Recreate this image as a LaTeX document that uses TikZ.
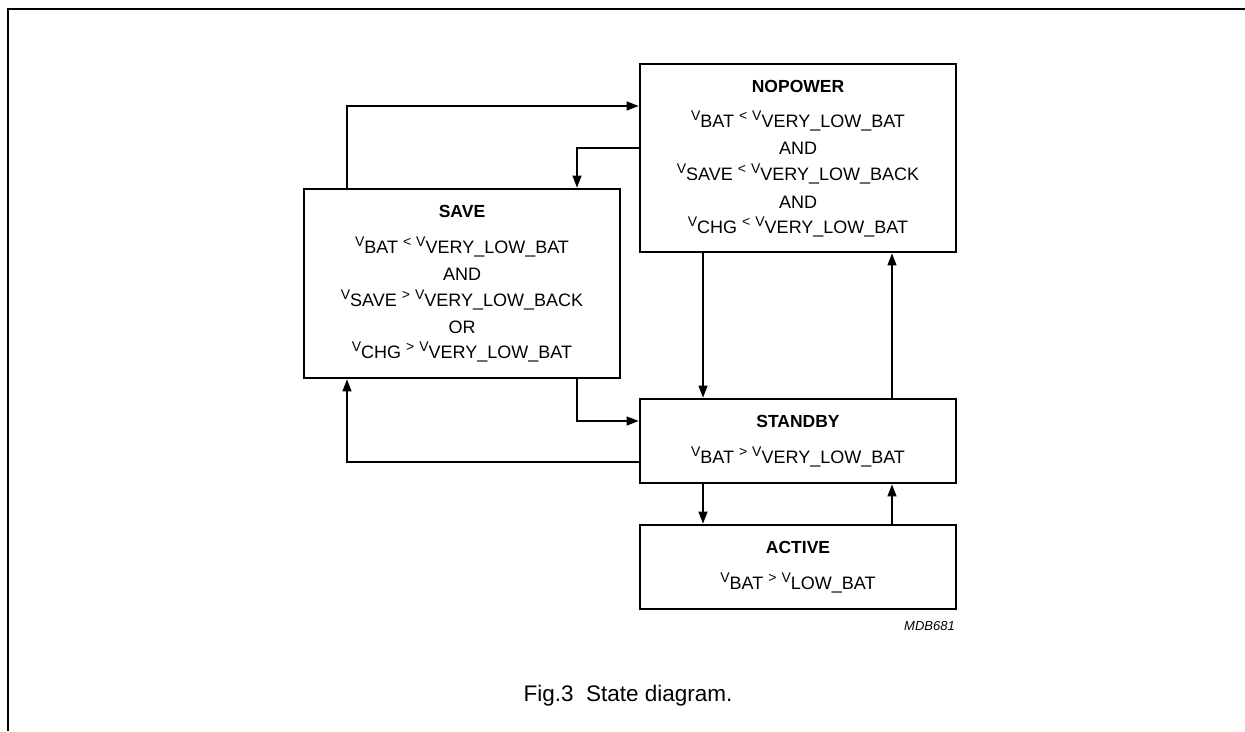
\documentclass[tikz,border=0pt]{standalone}
\usepackage{fontspec}
\setmainfont{Liberation Sans}
\usetikzlibrary{arrows.meta}
\newcommand\rsm[1]{\raisebox{6.5pt}{\fontsize{14}{14}\selectfont #1}}
\tikzset{
  statebox/.style={draw, line width=2.8pt, rectangle, inner sep=0pt, minimum width=316pt},
  ttl/.style={anchor=base, inner sep=0pt, font=\fontsize{17.5}{20}\selectfont\bfseries},
  cond/.style={anchor=base, inner sep=0pt, font=\fontsize{18}{20}\selectfont},
  conn/.style={line width=1.3pt, -{Triangle[length=12pt,width=9pt]}},
  frameline/.style={line width=2pt}
}
\begin{document}
\begin{tikzpicture}[x=1pt,y=-1pt]
\useasboundingbox (0,0) rectangle (1245,731);
\draw[frameline] (7.5,731) -- (7.5,8.5) -- (1245,8.5);

% boxes
\node[statebox, minimum height=188pt] (nopower) at (798,158) {};
\node[statebox, minimum height=189pt] (save) at (462,283.5) {};
\node[statebox, minimum height=84pt] (standby) at (798,441) {};
\node[statebox, minimum height=84pt] (active) at (798,567) {};

% NOPOWER text
\node[ttl]  (np0) at (798,92)  {NOPOWER};
\node[cond] (np1) at (798,127) {\rsm{V}BAT \rsm{<} \rsm{V}VERY\_LOW\_BAT};
\node[cond] (np2) at (798,154) {AND};
\node[cond] (np3) at (798,180) {\rsm{V}SAVE \rsm{<} \rsm{V}VERY\_LOW\_BACK};
\node[cond] (np4) at (798,208) {AND};
\node[cond] (np5) at (798,233) {\rsm{V}CHG \rsm{<} \rsm{V}VERY\_LOW\_BAT};

% SAVE text
\node[ttl]  (sv0) at (462,217) {SAVE};
\node[cond] (sv1) at (462,253) {\rsm{V}BAT \rsm{<} \rsm{V}VERY\_LOW\_BAT};
\node[cond] (sv2) at (462,280) {AND};
\node[cond] (sv3) at (462,306) {\rsm{V}SAVE \rsm{>} \rsm{V}VERY\_LOW\_BACK};
\node[cond] (sv4) at (462,333) {OR};
\node[cond] (sv5) at (462,358) {\rsm{V}CHG \rsm{>} \rsm{V}VERY\_LOW\_BAT};

% STANDBY text
\node[ttl]  (sb0) at (798,427) {STANDBY};
\node[cond] (sb1) at (798,463) {\rsm{V}BAT \rsm{>} \rsm{V}VERY\_LOW\_BAT};

% ACTIVE text
\node[ttl]  (ac0) at (798,553) {ACTIVE};
\node[cond] (ac1) at (798,589) {\rsm{V}BAT \rsm{>} \rsm{V}LOW\_BAT};

% connectors
\draw[conn] (save.north -| 347,0) |- (nopower.west |- 0,106);
\draw[conn] (nopower.west |- 0,148) -| (save.north -| 577,0);
\draw[conn] (nopower.south -| 703,0) -- (standby.north -| 703,0);
\draw[conn] (standby.north -| 892,0) -- (nopower.south -| 892,0);
\draw[conn] (save.south -| 577,0) |- (standby.west |- 0,421);
\draw[conn] (standby.west |- 0,462) -| (save.south -| 347,0);
\draw[conn] (standby.south -| 703,0) -- (active.north -| 703,0);
\draw[conn] (active.north -| 892,0) -- (standby.south -| 892,0);

% labels
\node[anchor=base east, inner sep=0pt, font=\fontsize{13}{15}\selectfont\itshape] (mdb) at (955,630) {MDB681};
\node[anchor=base, inner sep=0pt, font=\fontsize{22.5}{26}\selectfont] (cap) at (628,701) {Fig.3\ \ State diagram.};
\end{tikzpicture}
\end{document}
